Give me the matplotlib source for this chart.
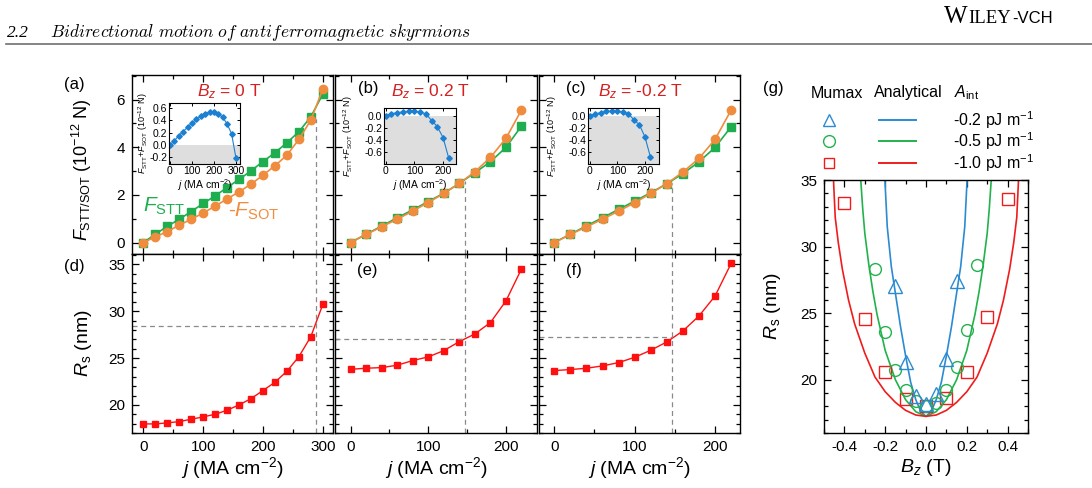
import matplotlib
matplotlib.use('Agg')
import matplotlib.pyplot as plt
from matplotlib.ticker import MultipleLocator, FormatStrFormatter

plt.rcParams['font.family'] = ['Liberation Sans', 'DejaVu Sans']
plt.rcParams['mathtext.fontset'] = 'custom'
plt.rcParams['mathtext.rm'] = 'Liberation Sans'
plt.rcParams['mathtext.it'] = 'Liberation Sans:italic'
plt.rcParams['mathtext.bf'] = 'Liberation Sans:bold'
plt.rcParams['axes.unicode_minus'] = False

# ---- data ----
j_a = [0, 20, 40, 60, 80, 100, 120, 140, 160, 180, 200, 220, 240, 260, 280, 300]
stt_a = [0, 0.35, 0.68, 0.98, 1.30, 1.64, 1.96, 2.31, 2.65, 3.01, 3.40, 3.77, 4.19, 4.65, 5.28, 6.23]
sot_a = [0, 0.24, 0.46, 0.73, 0.98, 1.24, 1.53, 1.83, 2.13, 2.45, 2.83, 3.22, 3.67, 4.33, 5.14, 6.44]
sum_a = [0.0, 0.07, 0.15, 0.22, 0.29, 0.36, 0.42, 0.47, 0.51, 0.54, 0.54, 0.51, 0.45, 0.34, 0.18, -0.22]
rs_d = [17.97, 17.97, 18.08, 18.22, 18.47, 18.72, 19.0, 19.43, 20.0, 20.67, 21.53, 22.42, 23.59, 25.15, 27.29, 30.73]

j_b = [0, 20, 40, 60, 80, 100, 120, 140, 160, 180, 200, 220]
sot_b = [0, 0.34, 0.66, 0.98, 1.32, 1.68, 2.06, 2.48, 2.97, 3.57, 4.37, 5.56]
stt_b = [0, 0.35, 0.69, 1.04, 1.37, 1.72, 2.07, 2.48, 2.93, 3.39, 3.99, 4.89]
sum_b = [0.0, 0.03, 0.05, 0.06, 0.07, 0.07, 0.06, 0.03, -0.08, -0.18, -0.36, -0.70]
rs_e = [23.8, 23.91, 23.98, 24.23, 24.73, 25.12, 25.79, 26.75, 27.57, 28.78, 31.09, 34.5]

j_c = [0, 20, 40, 60, 80, 100, 120, 140, 160, 180, 200, 220]
sot_c = [0, 0.34, 0.66, 0.98, 1.32, 1.67, 2.06, 2.47, 2.96, 3.53, 4.33, 5.56]
stt_c = [0, 0.35, 0.70, 1.04, 1.39, 1.74, 2.09, 2.47, 2.89, 3.39, 3.99, 4.86]
sum_c = [0.0, 0.03, 0.05, 0.07, 0.07, 0.07, 0.06, 0.03, -0.07, -0.15, -0.35, -0.68]
rs_f = [23.66, 23.77, 23.91, 24.16, 24.51, 25.08, 25.83, 26.72, 27.89, 29.49, 31.62, 35.1]

# crossing points (dashed guides)
j_cross = [289, 147, 146]
f_cross = [5.2, 2.6, 2.5]
rs_cross = [28.46, 27.04, 27.25]
bz_titles = ['$B_z$ = 0 T', '$B_z$ = 0.2 T', '$B_z$ = -0.2 T']

# panel (g)
bz_tri = [-0.15, -0.1, -0.05, 0, 0.05, 0.1, 0.15]
rs_tri = [27.05, 21.3, 18.8, 18.2, 18.9, 21.55, 27.4]
bz_circ = [-0.25, -0.2, -0.15, -0.1, -0.05, 0, 0.05, 0.1, 0.15, 0.2, 0.25]
rs_circ = [28.35, 23.6, 20.75, 19.2, 18.4, 18.05, 18.25, 19.25, 20.95, 23.75, 28.6]
bz_sq = [-0.4, -0.3, -0.2, -0.1, 0, 0.1, 0.2, 0.3, 0.4]
rs_sq = [33.25, 24.55, 20.55, 18.55, 18.0, 18.6, 20.6, 24.7, 33.55]

bz_red = [-0.455, -0.445, -0.43, -0.41, -0.38, -0.35, -0.3, -0.25, -0.2, -0.15, -0.1, -0.05, 0,
          0.05, 0.1, 0.15, 0.2, 0.25, 0.3, 0.35, 0.38, 0.41, 0.43, 0.445, 0.455]
rs_red = [35.5, 32.2, 30.3, 28.3, 26.0, 24.2, 22.0, 20.2, 19.1, 18.3, 17.7, 17.35, 17.25,
          17.35, 17.7, 18.3, 19.1, 20.2, 22.0, 24.2, 26.0, 28.3, 30.3, 32.2, 35.5]
bz_grn = [-0.322, -0.31, -0.30, -0.28, -0.26, -0.24, -0.2, -0.15, -0.1, -0.05, 0,
          0.05, 0.1, 0.15, 0.2, 0.24, 0.26, 0.28, 0.30, 0.31, 0.322]
rs_grn = [35.5, 32.8, 31.0, 28.6, 26.6, 24.9, 22.2, 20.0, 18.5, 17.6, 17.25,
          17.6, 18.5, 20.0, 22.2, 24.9, 26.6, 28.6, 31.0, 32.8, 35.5]
bz_blu = [-0.203, -0.19, -0.17, -0.15, -0.125, -0.1, -0.075, -0.05, -0.025, 0,
          0.025, 0.05, 0.075, 0.1, 0.125, 0.15, 0.17, 0.19, 0.203]
rs_blu = [35.5, 31.5, 28.5, 26.5, 24.0, 21.8, 19.8, 18.5, 17.6, 17.25,
          17.6, 18.5, 19.8, 21.8, 24.0, 26.5, 28.5, 31.5, 35.5]
aint_labels = ['-0.2 pJ m$^{-1}$', '-0.5 pJ m$^{-1}$', '-1.0 pJ m$^{-1}$']

GREEN = '#1fae4f'
ORANGE = '#f08c3e'
RED = '#ff1010'
IBLUE = '#1c80d2'
GBLUE = '#2b8bd2'
GGREEN = '#22b24c'
GRED = '#f01c1c'
TRED = '#d42020'

W, H = 1092, 488
fig = plt.figure(figsize=(W / 100, H / 100), dpi=100)


def box(l, t, r, b):
    return [l / W, 1 - b / H, (r - l) / W, (b - t) / H]


def style(ax, xmaj, xmin, ymaj, ymin):
    ax.xaxis.set_major_locator(MultipleLocator(xmaj))
    ax.xaxis.set_minor_locator(MultipleLocator(xmin))
    ax.yaxis.set_major_locator(MultipleLocator(ymaj))
    ax.yaxis.set_minor_locator(MultipleLocator(ymin))
    ax.tick_params(which='both', direction='in', top=True, right=True, width=0.9,
                   labelsize=11, pad=5)
    ax.tick_params(which='major', length=5)
    ax.tick_params(which='minor', length=2.8)
    for s in ax.spines.values():
        s.set_linewidth(1.0)


lefts = [132, 335, 539]
rights = [333, 537, 740]
xlims = [(-19, 317), (-20, 240), (-19, 231)]
js = [j_a, j_b, j_c]
stts = [stt_a, stt_b, stt_c]
sots = [sot_a, sot_b, sot_c]
sums = [sum_a, sum_b, sum_c]
rss = [rs_d, rs_e, rs_f]
ins_boxes = [(169.3, 103.3, 240, 164), (384.3, 108.3, 456, 164), (588.3, 108.3, 659.3, 164)]
ins_xlims = [(-3, 318), (-5, 245), (-6, 252)]
ins_ylims = [(-0.31, 0.68), (-0.79, 0.12), (-0.79, 0.12)]
ins_ylab_x = [-0.27, -0.41, -0.41]
bz_x = [229, 431, 640]

for i in range(3):
    axt = fig.add_axes(box(lefts[i], 75, rights[i], 254))
    axb = fig.add_axes(box(lefts[i], 254, rights[i], 433))

    axt.plot(js[i], stts[i], '-s', color=GREEN, ms=5.5, lw=1.2)
    axt.plot(js[i], sots[i], '-o', color=ORANGE, ms=6, lw=1.2)
    axt.set_xlim(*xlims[i])
    axt.set_ylim(-0.48, 7.03)
    axt.vlines(j_cross[i], -0.48, f_cross[i], colors='#8a8a8a', linestyles=(0, (4, 3)), lw=0.9)
    style(axt, 100, 50, 2, 1)
    axt.tick_params(labelbottom=False)

    axb.plot(js[i], rss[i], '-s', color=RED, ms=5, lw=1.0)
    axb.set_xlim(*xlims[i])
    axb.set_ylim(17.0, 36.1)
    axb.axvline(j_cross[i], color='#8a8a8a', ls=(0, (4, 3)), lw=0.9)
    axb.hlines(rs_cross[i], xlims[i][0], j_cross[i], colors='#8a8a8a', linestyles=(0, (4, 3)), lw=0.9)
    style(axb, 100, 50, 5, 1)
    axb.set_xlabel('$j$ (MA cm$^{-2}$)', fontsize=14, labelpad=1)

    if i == 0:
        axt.set_ylabel('$F_{\\rm STT/SOT}$ (10$^{-12}$ N)', fontsize=13)
        axt.yaxis.set_label_coords(-0.19, 0.47)
        axb.set_ylabel('$R_{\\rm s}$ (nm)', fontsize=14)
        axb.yaxis.set_label_coords(-0.19, 0.5)
    else:
        axt.tick_params(labelleft=False)
        axb.tick_params(labelleft=False)

    axt.text(bz_x[i] / W, 1 - 96 / H, bz_titles[i], transform=fig.transFigure,
             ha='center', va='baseline', fontsize=12.5, color=TRED)

    # inset
    l, t, r, b = ins_boxes[i]
    ins = fig.add_axes(box(l, t, r, b))
    ins.axhspan(ins_ylims[i][0], 0, color='#dedede', zorder=0, lw=0)
    ins.plot(js[i], sums[i], '-D', color=IBLUE, ms=2.8, lw=0.8)
    ins.set_xlim(*ins_xlims[i])
    ins.set_ylim(*ins_ylims[i])
    ins.xaxis.set_major_locator(MultipleLocator(100))
    ins.yaxis.set_major_locator(MultipleLocator(0.2))
    ins.yaxis.set_major_formatter(FormatStrFormatter('%.1f'))
    ins.tick_params(direction='in', top=True, right=True, length=2.5, width=0.7,
                    labelsize=7.5, pad=1.5)
    for s in ins.spines.values():
        s.set_linewidth(0.8)
    ins.set_xlabel('$j$ (MA cm$^{-2}$)', fontsize=7.5, labelpad=0.5)
    ins.set_ylabel('$F_{\\rm STT}$+$F_{\\rm SOT}$ (10$^{-12}$ N)', fontsize=6.5)
    ins.yaxis.set_label_coords(ins_ylab_x[i], 0.5)

# panel (g)
axg = fig.add_axes(box(824, 180, 1028, 433))
axg.plot(bz_blu, rs_blu, '-', color=GBLUE, lw=1.2)
axg.plot(bz_grn, rs_grn, '-', color=GGREEN, lw=1.2)
axg.plot(bz_red, rs_red, '-', color=GRED, lw=1.2)
axg.plot(bz_sq, rs_sq, 's', mfc='none', mec=GRED, ms=8, mew=1.0)
axg.plot(bz_circ, rs_circ, 'o', mfc='none', mec=GGREEN, ms=8.5, mew=1.0)
axg.plot(bz_tri, rs_tri, '^', mfc='none', mec=GBLUE, ms=9.5, mew=1.0)
axg.set_xlim(-0.5, 0.5)
axg.set_ylim(16, 35)
style(axg, 0.2, 0.1, 5, 1)
axg.xaxis.set_major_formatter(FormatStrFormatter('%.1f'))
axg.set_xlabel('$B_z$ (T)', fontsize=14, labelpad=2)
axg.set_ylabel('$R_{\\rm s}$ (nm)', fontsize=14)
axg.yaxis.set_label_coords(-0.2, 0.5)

# overlay in pixel coordinates for header, panel letters and legend of (g)
ov = fig.add_axes([0, 0, 1, 1])
ov.set_xlim(0, W)
ov.set_ylim(H, 0)
ov.set_axis_off()

ov.text(7, 37, '2.2', fontsize=12.5, fontfamily='Liberation Serif', style='italic', va='baseline')
ov.text(50, 37, r'$\mathit{Bidirectional\ motion\ of\ antiferromagnetic\ skyrmions}$',
        fontsize=12.5, math_fontfamily='cm', va='baseline')
ov.plot([6, W], [44.3, 44.3], color='#707070', lw=1.2)

# publisher mark, pieces placed one after another
x0 = 944
fig.canvas.draw()
for piece, fs, fam in [('W', 18, 'Liberation Serif'), ('ILEY', 13.5, 'Liberation Serif'),
                       ('-VCH', 12, 'Liberation Sans')]:
    t = ov.text(x0, 23, piece, fontsize=fs, fontfamily=fam, va='baseline')
    fig.canvas.draw()
    x0 = t.get_window_extent().x1 + 1

for lab, (x, y) in zip(['(a)', '(d)', '(b)', '(c)', '(e)', '(f)', '(g)'],
                       [(64, 84), (64, 266), (358, 88), (566, 88), (357, 270), (566, 271), (763, 88)]):
    ov.text(x, y, lab, fontsize=12, va='center', ha='left')

ov.text(143, 212, '$F_{\\rm STT}$', fontsize=15, color=GREEN, va='baseline')
ov.text(228, 217, '-$F_{\\rm SOT}$', fontsize=15, color=ORANGE, va='baseline')

ov.text(811, 93, 'Mumax', fontsize=11.5, va='center')
ov.text(874, 93, 'Analytical', fontsize=11.5, va='center')
ov.text(954, 93, '$A_{\\rm int}$', fontsize=11.5, va='center')
row_y = [120, 141, 163]
for y, col, mk, lab in zip(row_y, [GBLUE, GGREEN, GRED], ['^', 'o', 's'], aint_labels):
    ov.plot([829], [y], mk, mfc='none', mec=col, ms=8.5 if mk != 's' else 7.5, mew=1.0)
    ov.plot([879, 916], [y, y], color=col, lw=1.4)
    ov.text(953, y, lab, fontsize=11.5, va='center')

fig.savefig('out.png', dpi=100)
